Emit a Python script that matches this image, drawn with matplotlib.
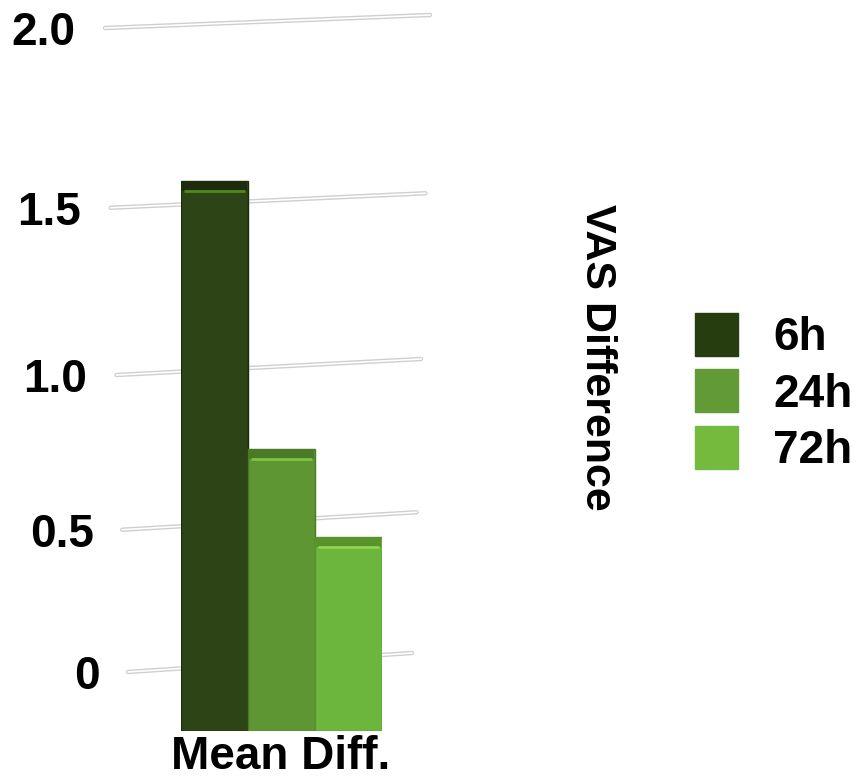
import numpy as np
import matplotlib.pyplot as plt
from matplotlib.patches import Rectangle

plt.rcParams['font.family'] = ['Liberation Sans', 'DejaVu Sans']
plt.rcParams['font.weight'] = 'bold'

groups = ['6h', '24h', '72h']
mean_diff = [1.6, 0.82, 0.565]
face_colors = ['#2c4416', '#5f9634', '#6db63d']
top_colors = ['#1c2c0c', '#497a25', '#57952c']
shine_colors = ['#4f8a1c', '#7fc142', '#8fd350']
legend_colors = ['#263d0f', '#629a36', '#76b93f']
grid_values = [0, 0.5, 1.0, 1.5, 2.0]
grid_labels = ['0', '0.5', '1.0', '1.5', '2.0']

W, H = 859, 777
fig = plt.figure(figsize=(W / 100, H / 100), dpi=100)


# back wall is seen in perspective: spacing grows towards the top
def fwd(v):
    v = np.asarray(v, float)
    return 272 * v + 25 * v ** 2


def inv(s):
    s = np.asarray(s, float)
    return (-272 + np.sqrt(np.clip(272 ** 2 + 100 * s, 0, None))) / 50


back = fig.add_axes([0, 0, 1, 1])
back.set_yscale('function', functions=(fwd, inv))
back.set_xlim(0, W)
back.set_ylim(inv(-105), inv(H - 105))
back.axis('off')

for v, lab in zip(grid_values, grid_labels):
    xl, xr = 128 - 11.5 * v, 412 + 9 * v
    v_right = inv(fwd(v) + 19 - 3 * v)
    back.plot([xl, xr], [v, v_right], color='#cfcfcf', lw=3.2,
              solid_capstyle='round', zorder=1)
    back.plot([xl, xr], [v, v_right], color='white', lw=1.2, zorder=2)
    back.text(100 - 12.5 * v, v, lab, ha='right', va='center_baseline',
              fontsize=33, fontweight='bold')

# bars sit in front of the wall
bx = fig.add_axes([181 / W, (H - 731) / H, 201 / W, 688 / H])
bx.set_xlim(-0.5, 2.5)
bx.set_ylim(0, 2.0)
bx.patch.set_alpha(0)
bx.axis('off')

x = np.arange(len(groups))
vals = np.array(mean_diff)
bx.bar(x, vals, width=1.0, color=face_colors, edgecolor=top_colors,
       linewidth=1.0, zorder=2)
band = 0.03
bx.bar(x, band, bottom=vals - band, width=0.97, color=top_colors, zorder=3)
bx.hlines(vals - band, x - 0.45, x + 0.45, colors=shine_colors, lw=2, zorder=4)

handles = [Rectangle((0, 0), 1, 1, color=c) for c in legend_colors]
fig.legend(handles, groups, loc='center left',
           bbox_to_anchor=(695 / W, (H - 393) / H), frameon=False,
           fontsize=33, handlelength=0.94, handleheight=1.067,
           handletextpad=0.76, labelspacing=0.2, borderpad=0,
           borderaxespad=0)

fig.text(597 / W, (H - 357) / H, 'VAS Difference', rotation=-90,
         ha='center', va='center', fontsize=31, fontweight='bold')
fig.text(281 / W, (H - 769) / H, 'Mean Diff.', ha='center', va='baseline',
         fontsize=33, fontweight='bold')

fig.savefig('out.png', dpi=100)
